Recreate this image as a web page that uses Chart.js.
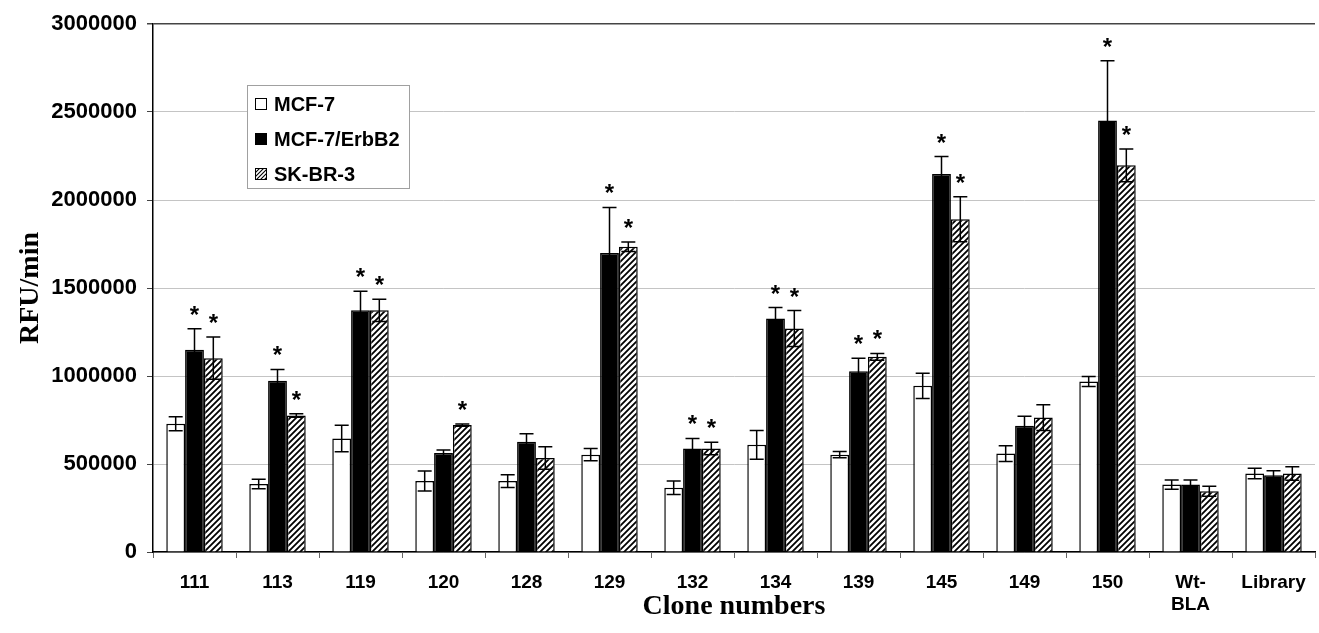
<!DOCTYPE html>
<html>
<head>
<meta charset="utf-8">
<script src="https://cdn.jsdelivr.net/npm/chart.js@4"></script>
<style>
  body { margin: 0; background: #fff; }
  #wrap { width: 1319px; height: 633px; }
</style>
</head>
<body>
<div id="wrap"><canvas id="rfuChart" width="1319" height="633"></canvas></div>
<script>
const clones = ['111', '113', '119', '120', '128', '129', '132', '134', '139', '145', '149', '150', ['Wt-', 'BLA'], 'Library'];

const mcf7 = [729000, 386000, 645000, 403000, 403000, 553000, 365000, 609000, 553000, 944000, 559000, 969000, 383000, 446000];
const mcf7Err = [40000, 27000, 75000, 57000, 36000, 35000, 38000, 82000, 18000, 72000, 45000, 28000, 26000, 30000];
const mcf7Star = [0, 0, 0, 0, 0, 0, 0, 0, 0, 0, 0, 0, 0, 0];

const erbb2 = [1149000, 973000, 1373000, 562000, 627000, 1699000, 588000, 1326000, 1027000, 2148000, 718000, 2451000, 383000, 436000];
const erbb2Err = [120000, 64000, 108000, 17000, 45000, 259000, 57000, 63000, 74000, 99000, 53000, 340000, 26000, 26000];
const erbb2Star = [1, 1, 1, 0, 0, 1, 1, 1, 1, 1, 0, 1, 0, 0];

const skbr3 = [1101000, 776000, 1373000, 721000, 534000, 1735000, 588000, 1270000, 1109000, 1891000, 764000, 2197000, 345000, 446000];
const skbr3Err = [120000, 10000, 63000, 6000, 64000, 27000, 36000, 102000, 19000, 128000, 73000, 93000, 28000, 38000];
const skbr3Star = [1, 1, 1, 1, 0, 1, 1, 1, 1, 1, 0, 1, 0, 0];

const yTicks = [0, 500000, 1000000, 1500000, 2000000, 2500000, 3000000];

const SANS = '"Liberation Sans", Arial, sans-serif';
const SERIF = '"Liberation Serif", "Times New Roman", serif';

// diagonal hatch for SK-BR-3
function makeHatch(size, lw) {
    const c = document.createElement('canvas');
    c.width = size; c.height = size;
    const g = c.getContext('2d');
    g.fillStyle = '#fff';
    g.fillRect(0, 0, size, size);
    g.strokeStyle = '#000';
    g.lineWidth = lw;
    g.beginPath();
    g.moveTo(0, size); g.lineTo(size, 0);
    g.moveTo(-size / 2, size / 2); g.lineTo(size / 2, -size / 2);
    g.moveTo(size / 2, size * 1.5); g.lineTo(size * 1.5, size / 2);
    g.stroke();
    return g.createPattern(c, 'repeat');
}

const ctx = document.getElementById('rfuChart').getContext('2d');
const hatch = makeHatch(6, 1.8);
const hatchSmall = makeHatch(4, 1.1);

const errorBars = {
    id: 'errorBars',
    afterDatasetsDraw(chart) {
        const g = chart.ctx;
        const y = chart.scales.y;
        g.save();
        chart.data.datasets.forEach((ds, i) => {
            const meta = chart.getDatasetMeta(i);
            meta.data.forEach((bar, j) => {
                const v = ds.data[j], e = ds.errors[j];
                const yTop = y.getPixelForValue(v + e);
                const yBot = y.getPixelForValue(v - e);
                g.strokeStyle = '#000';
                g.lineWidth = 1.5;
                g.beginPath();
                g.moveTo(bar.x, yTop); g.lineTo(bar.x, yBot);
                g.moveTo(bar.x - 7, yTop); g.lineTo(bar.x + 7, yTop);
                g.moveTo(bar.x - 7, yBot); g.lineTo(bar.x + 7, yBot);
                g.stroke();
                if (ds.stars[j]) {
                    g.fillStyle = '#000';
                    g.font = 'bold 24px ' + SANS;
                    g.textAlign = 'center';
                    g.textBaseline = 'alphabetic';
                    g.fillText('*', bar.x, yTop - 6);
                }
            });
        });
        g.restore();
    }
};

const boxLegend = {
    id: 'boxLegend',
    afterDraw(chart) {
        const g = chart.ctx;
        const a = chart.chartArea;
        const bx = a.left + 94, by = a.top + 61, bw = 162, bh = 103;
        g.save();
        g.fillStyle = '#fff';
        g.fillRect(bx, by, bw, bh);
        g.strokeStyle = '#a0a0a0';
        g.lineWidth = 1;
        g.strokeRect(bx + 0.5, by + 0.5, bw, bh);
        const fills = ['#fff', '#000', hatchSmall];
        chart.data.datasets.forEach((ds, i) => {
            const cy = by + 19 + i * 35;
            g.fillStyle = fills[i];
            g.fillRect(bx + 8, cy - 6, 12, 12);
            g.strokeStyle = '#000';
            g.lineWidth = 1;
            g.strokeRect(bx + 8.5, cy - 5.5, 11, 11);
            g.fillStyle = '#000';
            g.font = 'bold 20px ' + SANS;
            g.textAlign = 'left';
            g.textBaseline = 'middle';
            g.fillText(ds.label, bx + 27, cy + 1);
        });
        g.restore();
    }
};

new Chart(ctx, {
    type: 'bar',
    data: {
        labels: clones,
        datasets: [
            { label: 'MCF-7', data: mcf7, errors: mcf7Err, stars: mcf7Star,
              backgroundColor: '#fff', borderColor: '#000', borderWidth: 1.5 },
            { label: 'MCF-7/ErbB2', data: erbb2, errors: erbb2Err, stars: erbb2Star,
              backgroundColor: '#000', borderColor: '#000', borderWidth: 1.5 },
            { label: 'SK-BR-3', data: skbr3, errors: skbr3Err, stars: skbr3Star,
              backgroundColor: hatch, borderColor: '#000', borderWidth: 1.5 }
        ]
    },
    options: {
        responsive: false,
        animation: false,
        layout: { padding: { top: 24, right: 4, left: 0, bottom: 0 } },
        categoryPercentage: 0.68,
        barPercentage: 1.0,
        plugins: {
            legend: { display: false },
            tooltip: { enabled: false }
        },
        scales: {
            x: {
                grid: { drawOnChartArea: false, offset: true, color: '#666', tickLength: 6 },
                border: { color: '#000', width: 1.5 },
                ticks: { color: '#000', font: { family: SANS, size: 19, weight: 'bold' }, padding: 13, maxRotation: 0 },
                title: { display: true, text: 'Clone numbers', color: '#000',
                         font: { family: SERIF, size: 28, weight: 'bold' }, padding: { top: 0, bottom: 9 } },
                afterFit(scale) { scale.height = 81; }
            },
            y: {
                min: 0,
                max: 3000000,
                afterBuildTicks(scale) { scale.ticks = yTicks.map(v => ({ value: v })); },
                grid: {
                    color: c => c.tick && c.tick.value === 3000000 ? '#444' : '#c4c4c4',
                    tickColor: '#444',
                    tickLength: 6,
                    lineWidth: c => c.tick && c.tick.value === 3000000 ? 1.5 : 1
                },
                border: { color: '#000', width: 1.5 },
                ticks: { color: '#000', font: { family: SANS, size: 22, weight: 'bold' }, padding: 10,
                         callback: v => String(v) },
                title: { display: true, text: 'RFU/min', color: '#000',
                         font: { family: SERIF, size: 28, weight: 'bold' }, padding: { top: 14, bottom: 0 } },
                afterFit(scale) { scale.width = 153; }
            }
        }
    },
    plugins: [errorBars, boxLegend]
});
</script>
</body>
</html>
